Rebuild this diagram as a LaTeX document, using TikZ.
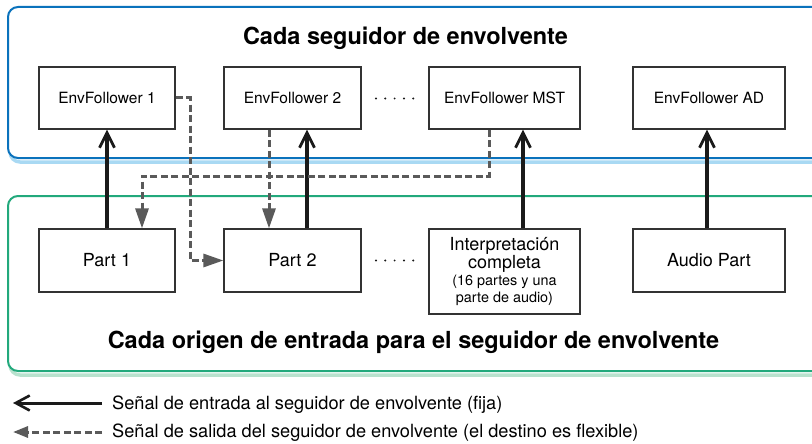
\documentclass[tikz,border=0pt]{standalone}
\usepackage{fontspec}
\setmainfont{TeX Gyre Heros}
\usetikzlibrary{arrows.meta}
\definecolor{frameblue}{HTML}{0A72BC}
\definecolor{shadowblue}{HTML}{A9D9F3}
\definecolor{framegreen}{HTML}{22A97C}
\definecolor{shadowgreen}{HTML}{B8E2CE}
\definecolor{boxline}{HTML}{333333}
\definecolor{dashgrey}{HTML}{5A5A5A}
\definecolor{solidblack}{HTML}{1A1A1A}
\tikzset{
  frame/.style={line width=2pt, rounded corners=10pt, fill=white},
  frameshadow/.style={line width=3.5pt, rounded corners=10pt},
  unitbox/.style={draw=boxline, line width=1.2pt, inner sep=0pt, fill=white, minimum height=62pt},
  topfont/.style={font=\fontsize{15.5}{18}\selectfont},
  botfont/.style={font=\fontsize{18}{20}\selectfont},
  titlefont/.style={font=\fontsize{23.5}{26}\selectfont\bfseries, inner sep=0pt},
  legfont/.style={font=\fontsize{18.2}{20}\selectfont, inner sep=0pt},
  fixedsig/.style={draw=solidblack, line width=3.5pt, -{Straight Barb[length=15pt,width=15pt,line width=2.8pt]}},
  flexsig/.style={draw=dashgrey, line width=3pt, dash pattern=on 7pt off 3.5pt, -{Triangle[length=20pt,width=13pt]}},
  dotty/.style={fill=solidblack, circle, inner sep=0pt, minimum size=2.2pt}
}
\begin{document}
\begin{tikzpicture}[x=1pt,y=-1pt]
\useasboundingbox (0,0) rectangle (812,444);
\begin{scope}
\clip (0,0) rectangle (812,444);
% frames
\draw[frameshadow, draw=shadowblue] (10,11) rectangle (852,162);
\draw[frame, draw=frameblue] (8,7) rectangle (850,158);
\draw[frameshadow, draw=shadowgreen] (10,200) rectangle (852,375);
\draw[frame, draw=framegreen] (8,196) rectangle (850,371);
\end{scope}

% titles
\node[titlefont, anchor=base] (toptitle) at (405.5,45) {Cada seguidor de envolvente};
\node[titlefont, anchor=base] (bottitle) at (413.5,348) {Cada origen de entrada para el seguidor de envolvente};

% envelope followers
\node[unitbox, topfont, minimum width=136pt] (ef1) at (107,98) {EnvFollower 1};
\node[unitbox, topfont, minimum width=137pt] (ef2) at (292.5,98) {EnvFollower 2};
\node[unitbox, topfont, minimum width=151pt] (efmst) at (504.5,98) {EnvFollower MST};
\node[unitbox, topfont, minimum width=152pt] (efad) at (709,98) {EnvFollower AD};

% parts
\node[unitbox, botfont, minimum width=136pt, minimum height=63pt] (p1) at (107,260.5) {Part 1};
\node[unitbox, botfont, minimum width=137pt, minimum height=63pt] (p2) at (292.5,260.5) {Part 2};
\node[unitbox, minimum width=151pt, minimum height=85pt] (pint) at (504.5,271.5)
  {\begin{minipage}{145pt}\centering
   \fontsize{18}{16.8}\selectfont Interpretación\\completa\par
   \fontsize{14.4}{16.6}\selectfont (16 partes y una\\parte de audio)\par\end{minipage}};
\node[unitbox, botfont, minimum width=152pt, minimum height=63pt] (pad) at (709,260.5) {Audio Part};

% dots
\foreach \i in {0,...,4} {
  \node[dotty] (dtop\i) at (376+9.3*\i,98.5) {};
  \node[dotty] (dbot\i) at (376+9.3*\i,260.5) {};
}

% fixed input signals
\draw[fixedsig] (p1.north) -- (ef1.south);
\draw[fixedsig] ([xshift=14.5pt]p2.north) -- ([xshift=14.5pt]ef2.south);
\draw[fixedsig] ([xshift=18.5pt]pint.north) -- ([xshift=18.5pt]efmst.south);
\draw[fixedsig] ([xshift=-2pt]pad.north) -- ([xshift=-2pt]efad.south);

% flexible output signals
\coordinate (c1) at (190,98);
\draw[flexsig] (ef1.east) -- (c1) |- (p2.west);
\draw[flexsig] ([xshift=-23.5pt]ef2.south) -- ([xshift=-23.5pt]p2.north);
\coordinate (c3) at (489,176);
\coordinate (c4) at (142,176);
\draw[flexsig] ([xshift=-15.5pt]efmst.south) -- (c3) -- (c4) -- ([xshift=35pt]p1.north);

% legend
\coordinate (l1s) at (102,403);
\coordinate (l1e) at (13,403);
\coordinate (l2s) at (102,432);
\coordinate (l2e) at (13,432);
\draw[draw=solidblack, line width=3pt, -{Straight Barb[length=14pt,width=15pt,line width=2.6pt]}] (l1s) -- (l1e);
\draw[draw=dashgrey, line width=3pt, dash pattern=on 7pt off 3.5pt, -{Triangle[length=15pt,width=11pt]}] (l2s) -- (l2e);
\node[legfont, anchor=base west] (leg1) at (112,409) {Señal de entrada al seguidor de envolvente (fija)};
\node[legfont, anchor=base west] (leg2) at (112,437) {Señal de salida del seguidor de envolvente (el destino es flexible)};
\end{tikzpicture}
\end{document}
